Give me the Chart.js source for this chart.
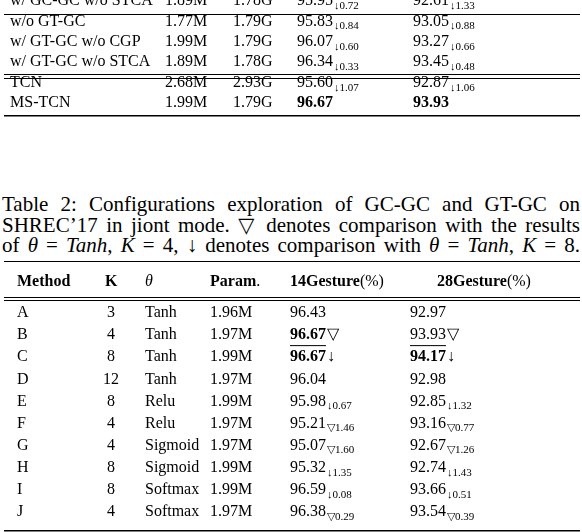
<!DOCTYPE html>
<html><head><meta charset="utf-8">
<script src="https://cdn.jsdelivr.net/npm/chart.js@4/dist/chart.umd.min.js"></script>
<style>
body{margin:0;background:#fff;width:582px;height:532px;overflow:hidden;position:relative;font-family:"Liberation Serif","DejaVu Serif",serif;}
#c1w{position:absolute;left:0;top:0;width:582px;height:120px}
#c2w{position:absolute;left:0;top:258px;width:582px;height:274px}
#cap{position:absolute;left:2px;top:194px;width:578px;font-size:21px;line-height:20.6px;color:#000}
#cap div{text-align:justify;text-align-last:justify;white-space:nowrap}
#cap i{font-style:italic}
</style></head><body>
<div id="c1w"><canvas id="c1"></canvas></div>
<div id="cap"><div style="white-space:normal">Table 2: Configurations exploration of GC-GC and GT-GC on</div><div style="white-space:normal">SHREC’17 in jiont mode. ▽ denotes comparison with the results</div><div style="white-space:normal">of <i>θ</i> = <i>Tanh</i>, <i>K</i> = 4, ↓ denotes comparison with <i>θ</i> = <i>Tanh</i>, <i>K</i> = 8.</div></div>
<div id="c2w"><canvas id="c2"></canvas></div>
<script>
// ---- data: upper table ----
const topNames=['w/ GC-GC w/o STCA','w/o GT-GC','w/ GT-GC w/o CGP','w/ GT-GC w/o STCA','TCN','MS-TCN'];
const topParams=['1.89M','1.77M','1.99M','1.89M','2.68M','1.99M'];
const topFlops=['1.78G','1.79G','1.79G','1.78G','2.93G','1.79G'];
const top14=[95.95,95.83,96.07,96.34,95.60,96.67];
const top14d=[0.72,0.84,0.60,0.33,1.07,null];
const top28=[92.61,93.05,93.27,93.45,92.87,93.93];
const top28d=[1.33,0.88,0.66,0.48,1.06,null];
// ---- data: Table 2 ----
const headers=['Method','K','θ','Param.','14Gesture','28Gesture'];
const methods=['A','B','C','D','E','F','G','H','I','J'];
const kVals=[3,4,8,12,8,4,4,8,8,4];
const thetas=['Tanh','Tanh','Tanh','Tanh','Relu','Relu','Sigmoid','Sigmoid','Softmax','Softmax'];
const params=['1.96M','1.97M','1.99M','1.97M','1.99M','1.97M','1.97M','1.99M','1.99M','1.97M'];
const g14=[96.43,96.67,96.67,96.04,95.98,95.21,95.07,95.32,96.59,96.38];
const g14mark=['','▽','↓','','↓','▽','▽','↓','↓','▽'];
const g14d=[null,null,null,null,0.67,1.46,1.60,1.35,0.08,0.29];
const g28=[92.97,93.93,94.17,92.98,92.85,93.16,92.67,92.74,93.66,93.54];
const g28mark=['','▽','↓','','↓','▽','▽','↓','↓','▽'];
const g28d=[null,null,null,null,1.32,0.77,1.26,1.43,0.51,0.39];

const FONT='"Liberation Serif", serif';
const FS=16;
function seg(ctx,x,y,t,o){
  o=o||{};const size=o.sub?11:FS;
  ctx.font=(o.italic?'italic ':'')+(o.bold?'bold ':'')+size+'px '+FONT;
  ctx.fillStyle='#000';ctx.textBaseline='middle';ctx.textAlign='left';
  const yy=y+(o.sub?5:0);ctx.fillText(t,x,yy);
  const w=ctx.measureText(t).width;
  if(o.ul){ctx.fillRect(x,y+10,w,1);}
  return x+w;
}
function val(ctx,x,y,v,mark,d,o){
  let nx=seg(ctx,x,y,v.toFixed(2),o);
  if(d!=null){nx=seg(ctx,nx+1,y,mark,{sub:true});seg(ctx,nx,y,d.toFixed(2),{sub:true});}
  else if(mark){seg(ctx,nx+1,y,mark,{});}
}
function hline(ctx,chart,v,w){const y=chart.scales.y.getPixelForValue(v);ctx.fillStyle='#000';ctx.fillRect(4,Math.round(y),576,w||1);}
const hideScales=(min,max)=>({x:{type:'linear',min:0,max:582,display:false},y:{type:'linear',reverse:true,min:min,max:max,display:false}});
const base={responsive:true,maintainAspectRatio:false,animation:false,events:[],layout:{padding:0},plugins:{legend:{display:false},tooltip:{enabled:false}}};

function build(){
const topCols={name:10,par:165,fl:233,a:297,b:413};
new Chart(document.getElementById('c1'),{type:'scatter',
  data:{datasets:[{data:top14.map((v,i)=>({x:0,y:i})),pointRadius:0}]},
  options:Object.assign({},base,{scales:hideScales(-0.05,5.83)}),
  plugins:[{id:'t1',afterDraw(ch){const ctx=ch.ctx,ys=ch.scales.y;
    topNames.forEach((n,i)=>{const y=ys.getPixelForValue(i);const b=i===5;
      seg(ctx,topCols.name,y,n);seg(ctx,topCols.par,y,topParams[i]);seg(ctx,topCols.fl,y,topFlops[i]);
      val(ctx,topCols.a,y,top14[i],top14d[i]!=null?'↓':'',top14d[i],{bold:b});
      val(ctx,topCols.b,y,top28[i],top28d[i]!=null?'↓':'',top28d[i],{bold:b});});
    hline(ctx,ch,0.64);hline(ctx,ch,3.58);hline(ctx,ch,3.77);hline(ctx,ch,5.59,1.5);
  }}]});

const cols={m:17,k:111,t:145,p:210,a:290,b:410};
new Chart(document.getElementById('c2'),{type:'scatter',
  data:{datasets:[{data:g14.map((v,i)=>({x:0,y:i})),pointRadius:0}]},
  options:Object.assign({},base,{scales:hideScales(-2.49,9.91)}),
  plugins:[{id:'t2',afterDraw(ch){const ctx=ch.ctx,ys=ch.scales.y;
    const hy=ys.getPixelForValue(-1.4);
    seg(ctx,cols.m,hy,headers[0],{bold:true});
    seg(ctx,cols.k-6,hy,headers[1],{bold:true});
    seg(ctx,cols.t,hy,headers[2],{italic:true});
    seg(ctx,seg(ctx,cols.p,hy,'Param',{bold:true}),hy,'.');
    seg(ctx,seg(ctx,cols.a,hy,headers[4],{bold:true}),hy,'(%)');
    seg(ctx,seg(ctx,cols.b+27,hy,headers[5],{bold:true}),hy,'(%)');
    methods.forEach((m,i)=>{const y=ys.getPixelForValue(i);
      seg(ctx,cols.m,y,m);
      ctx.font=FS+'px '+FONT;const kw=ctx.measureText(String(kVals[i])).width;
      seg(ctx,cols.k-kw/2,y,String(kVals[i]));
      seg(ctx,cols.t,y,thetas[i]);seg(ctx,cols.p,y,params[i]);
      val(ctx,cols.a,y,g14[i],g14mark[i],g14d[i],{bold:i===1||i===2,ul:i===1});
      val(ctx,cols.b,y,g28[i],g28mark[i],g28d[i],{bold:i===2,ul:i===1});});
    hline(ctx,ch,-2.35);hline(ctx,ch,-0.72);hline(ctx,ch,-0.59);hline(ctx,ch,9.82,1.5);
  }}]});
}
Promise.all([document.fonts.load('16px "Liberation Serif"'),document.fonts.load('bold 16px "Liberation Serif"'),document.fonts.load('italic 16px "Liberation Serif"')]).then(build,build);
</script></body></html>
